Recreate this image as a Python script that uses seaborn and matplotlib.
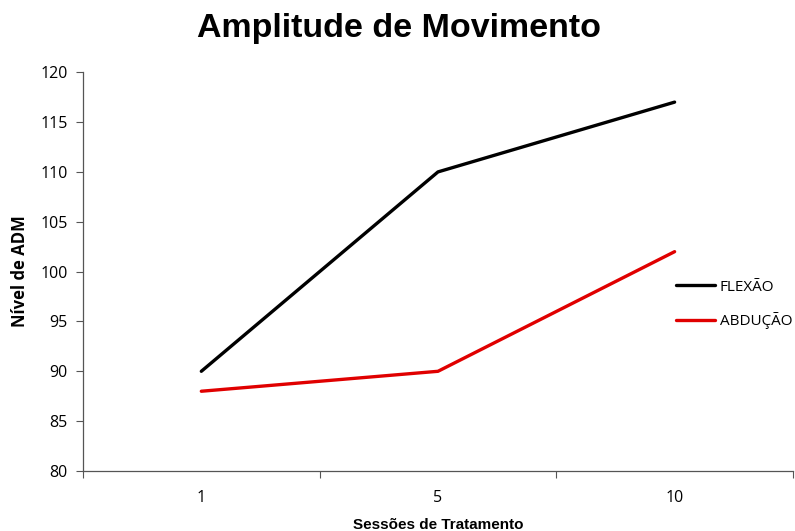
import pandas as pd
import matplotlib.pyplot as plt
import seaborn as sns

# Data
sessoes = ["1", "5", "10"]
flexao = [90, 110, 117]
abducao = [88, 90, 102]

df = pd.DataFrame({
    "Sessão": sessoes * 2,
    "ADM": flexao + abducao,
    "Movimento": ["FLEXÃO"] * 3 + ["ABDUÇÃO"] * 3,
})

sns.set_style("white")
plt.rcParams["font.family"] = ["Open Sans", "DejaVu Sans"]
plt.rcParams["text.color"] = "black"
plt.rcParams["axes.labelcolor"] = "black"
plt.rcParams["xtick.color"] = "black"
plt.rcParams["ytick.color"] = "black"

fig = plt.figure(figsize=(7.95, 5.31), dpi=100)
ax = fig.add_axes([0.1044, 0.113, 0.893, 0.751])

sns.lineplot(data=df, x="Sessão", y="ADM", hue="Movimento",
             palette={"FLEXÃO": "black", "ABDUÇÃO": "#e00000"},
             linewidth=2.4, ax=ax, sort=False)

# Y axis
ax.set_ylim(80, 120)
ax.set_yticks(range(80, 121, 5))
ax.tick_params(axis="y", left=True, length=5, width=0.8, color="#555555",
               labelsize=11.5, pad=6)

# X axis: labels in the middle of each category, ticks at the boundaries
ax.set_xlim(-0.5, 2.5)
ax.set_xticks([0, 1, 2])
ax.set_xticklabels(sessoes)
ax.tick_params(axis="x", which="major", length=0, labelsize=11.5, pad=14)
ax.set_xticks([-0.5, 0.5, 1.5, 2.5], minor=True)
ax.tick_params(axis="x", which="minor", bottom=True, length=5, width=0.8,
               color="#555555")

for s in ["top", "right"]:
    ax.spines[s].set_visible(False)
for s in ["left", "bottom"]:
    ax.spines[s].set_color("#555555")
    ax.spines[s].set_linewidth(0.9)

ax.set_xlabel("Sessões de Tratamento", fontsize=11, fontweight="bold",
              family="Liberation Sans", labelpad=8)
ax.set_ylabel("Nível de ADM", fontsize=12, fontweight="bold", labelpad=8)

fig.suptitle("Amplitude de Movimento", x=0.502, y=0.975, fontsize=24.5,
             fontweight="bold", family="Liberation Sans")

leg = ax.legend(loc="center left", bbox_to_anchor=(0.842, 0.4266),
                bbox_transform=fig.transFigure, frameon=False,
                fontsize=11, handlelength=2.6, handletextpad=0.3,
                labelspacing=1.15, borderaxespad=0)
for line in leg.get_lines():
    line.set_linewidth(2.4)

fig.savefig("out.png", dpi=100)
